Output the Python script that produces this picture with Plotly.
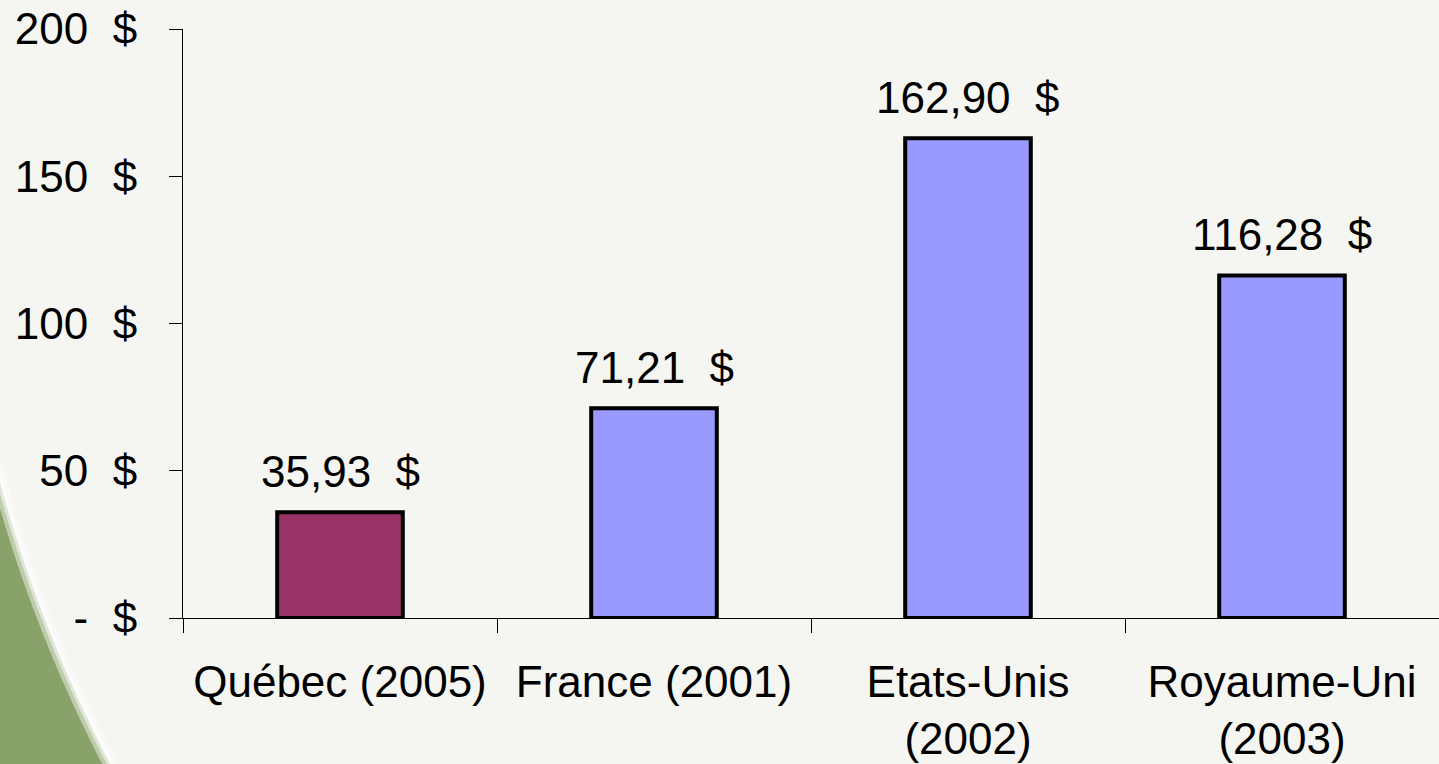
import math
import plotly.graph_objects as go

# ---- data ----
categories = ["Québec (2005)", "France (2001)", "Etats-Unis<br>(2002)", "Royaume-Uni<br>(2003)"]
values = [35.93, 71.21, 162.90, 116.28]
bar_colors = ["#993366", "#9999FF", "#9999FF", "#9999FF"]
y_tickvals = [0, 50, 100, 150, 200]
y_ticktext = ["-\u00a0\u00a0$", "50\u00a0\u00a0$", "100\u00a0\u00a0$", "150\u00a0\u00a0$", "200\u00a0\u00a0$"]

W, H = 1439, 764
ML, MR, MT, MB = 183, 0, 29, 146
PW, PH = W - ML - MR, H - MT - MB
FONT = "Liberation Sans, Arial, sans-serif"


def to_paper(px, py):
    return ((px - ML) / PW, (H - MB - py) / PH)


# decorative green corner (big circle edge), in pixel space -> paper
cx, cy, R = 1354.0, 115.0, 1403.0
arc = []
y = 460.0
while y <= 790.0:
    arc.append((cx - math.sqrt(R * R - (y - cy) ** 2), y))
    y += 5.0
poly = arc + [(-20, 790), (-20, 460)]
pts = [to_paper(px, py) for px, py in poly]
green_path = "M " + " L ".join(f"{a:.5f},{b:.5f}" for a, b in pts) + " Z"
apts = [to_paper(px, py) for px, py in arc]
arc_path = "M " + " L ".join(f"{a:.5f},{b:.5f}" for a, b in apts)

fig = go.Figure()
fig.add_trace(go.Bar(
    x=categories, y=values, width=0.4,
    marker=dict(color=bar_colors, line=dict(color="black", width=4)),
    hoverinfo="skip",
))

for c, v in zip(categories, values):
    fig.add_annotation(
        x=c, y=v, text=f"{v:.2f}".replace(".", ",") + "\u00a0\u00a0$",
        showarrow=False, yanchor="middle", yshift=41,
        font=dict(family=FONT, size=44, color="black"),
    )

fig.add_shape(type="path", path=green_path, xref="paper", yref="paper",
              fillcolor="#89A26A", line=dict(width=0), layer="below")
fig.add_shape(type="path", path=arc_path, xref="paper", yref="paper",
              line=dict(color="rgba(255,255,255,0.45)", width=14), layer="below")
fig.add_shape(type="path", path=arc_path, xref="paper", yref="paper",
              line=dict(color="rgba(255,255,255,0.5)", width=6), layer="below")

fig.update_layout(
    width=W, height=H,
    margin=dict(l=ML, r=MR, t=MT, b=MB, pad=0, autoexpand=False),
    paper_bgcolor="#F5F5F2",
    plot_bgcolor="rgba(0,0,0,0)",
    showlegend=False,
    font=dict(family=FONT, size=44, color="black"),
    bargap=0.6,
)
fig.update_xaxes(
    type="category", range=[-0.5, 3.5], automargin=False,
    showline=True, linecolor="black", linewidth=1,
    ticks="outside", tickson="boundaries", ticklen=14, tickcolor="black", tickwidth=1,
    showgrid=False, zeroline=False,
    tickfont=dict(family=FONT, size=44, color="black"),
    ticklabelstandoff=25,
)
fig.update_yaxes(
    range=[0, 200], tickvals=y_tickvals, ticktext=y_ticktext, automargin=False,
    showline=True, linecolor="black", linewidth=1,
    ticks="outside", ticklen=13, tickcolor="black", tickwidth=1,
    showgrid=False, zeroline=False,
    tickfont=dict(family=FONT, size=44, color="black"),
    ticklabelstandoff=23,
)

fig.write_html(
    "out.html",
    config={"displayModeBar": False},
    post_script="document.body.style.margin='0';document.body.style.overflow='hidden';",
)
